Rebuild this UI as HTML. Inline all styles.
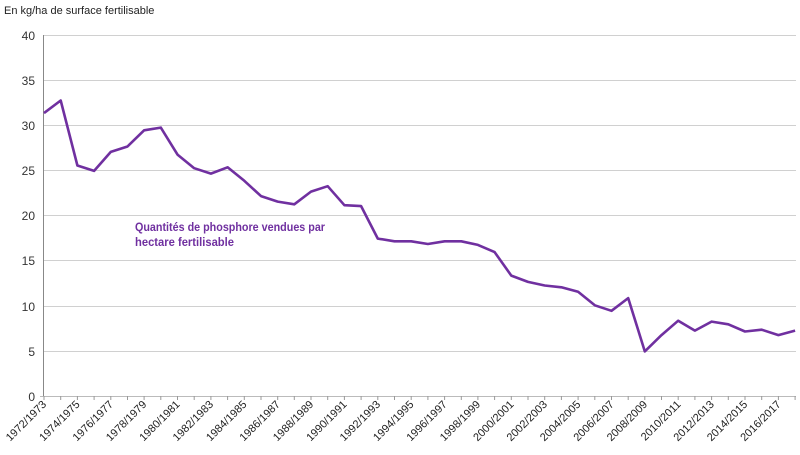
<!DOCTYPE html><html><head><meta charset="utf-8"><style>body{margin:0;background:#fff}svg{display:block}</style></head><body>
<svg width="800" height="455" xmlns="http://www.w3.org/2000/svg" font-family="Liberation Sans, sans-serif">
<text x="4" y="14" font-size="11" fill="#222">En kg/ha de surface fertilisable</text>
<g stroke="#d0d0d0" stroke-width="1">
<line x1="44" x2="796" y1="35.5" y2="35.5"/><line x1="44" x2="796" y1="80.5" y2="80.5"/><line x1="44" x2="796" y1="125.5" y2="125.5"/><line x1="44" x2="796" y1="170.5" y2="170.5"/><line x1="44" x2="796" y1="215.5" y2="215.5"/><line x1="44" x2="796" y1="260.5" y2="260.5"/><line x1="44" x2="796" y1="306.5" y2="306.5"/><line x1="44" x2="796" y1="351.5" y2="351.5"/>
</g>
<line x1="43.5" x2="43.5" y1="35" y2="397" stroke="#888"/>
<line x1="40" x2="796" y1="396.5" y2="396.5" stroke="#bbb"/>
<path stroke="#999" fill="none" d="M44 396v4M60.7 396v4M77.4 396v4M94.1 396v4M110.8 396v4M127.5 396v4M144.1 396v4M160.8 396v4M177.5 396v4M194.2 396v4M210.9 396v4M227.6 396v4M244.3 396v4M261 396v4M277.7 396v4M294.3 396v4M311 396v4M327.7 396v4M344.4 396v4M361.1 396v4M377.8 396v4M394.5 396v4M411.2 396v4M427.9 396v4M444.6 396v4M461.3 396v4M477.9 396v4M494.6 396v4M511.3 396v4M528 396v4M544.7 396v4M561.4 396v4M578.1 396v4M594.8 396v4M611.5 396v4M628.2 396v4M644.8 396v4M661.5 396v4M678.2 396v4M694.9 396v4M711.6 396v4M728.3 396v4M745 396v4M761.7 396v4M778.4 396v4M795.1 396v4"/>
<g font-size="12" fill="#333" text-anchor="end">
<text x="35" y="40">40</text><text x="35" y="85">35</text><text x="35" y="130">30</text><text x="35" y="175">25</text><text x="35" y="220">20</text><text x="35" y="265">15</text><text x="35" y="311">10</text><text x="35" y="356">5</text><text x="35" y="401">0</text>
</g>
<polyline fill="none" stroke="#7030A0" stroke-width="2.6" stroke-linejoin="round" points="44,113.1 60.7,100.5 77.4,165.5 94.1,170.9 110.8,151.9 127.5,146.5 144.1,130.3 160.8,127.6 177.5,154.6 194.2,168.2 210.9,173.6 227.6,167.3 244.3,180.8 261,196.1 277.7,201.6 294.3,204.3 311,191.6 327.7,186.2 344.4,205.2 361.1,206.1 377.8,238.6 394.5,241.3 411.2,241.3 427.9,244 444.6,241.3 461.3,241.3 477.9,244.9 494.6,252.1 511.3,275.6 528,281.9 544.7,285.5 561.4,287.3 578.1,291.8 594.8,305.3 611.5,310.8 628.2,298.1 644.8,351.4 661.5,335.1 678.2,320.7 694.9,330.6 711.6,321.6 728.3,324.3 745,331.5 761.7,329.7 778.4,335.1 795.1,330.6"/>
<text x="135" y="231" font-size="12" font-weight="bold" fill="#7030A0" textLength="190" lengthAdjust="spacingAndGlyphs">Quantités de phosphore vendues par</text>
<text x="135" y="246" font-size="12" font-weight="bold" fill="#7030A0" textLength="99" lengthAdjust="spacingAndGlyphs">hectare fertilisable</text>
<g font-size="11" fill="#222" text-anchor="end">
<text transform="translate(47,405) rotate(-45)">1972/1973</text>
<text transform="translate(80.4,405) rotate(-45)">1974/1975</text>
<text transform="translate(113.8,405) rotate(-45)">1976/1977</text>
<text transform="translate(147.2,405) rotate(-45)">1978/1979</text>
<text transform="translate(180.5,405) rotate(-45)">1980/1981</text>
<text transform="translate(213.9,405) rotate(-45)">1982/1983</text>
<text transform="translate(247.3,405) rotate(-45)">1984/1985</text>
<text transform="translate(280.7,405) rotate(-45)">1986/1987</text>
<text transform="translate(314.1,405) rotate(-45)">1988/1989</text>
<text transform="translate(347.5,405) rotate(-45)">1990/1991</text>
<text transform="translate(380.9,405) rotate(-45)">1992/1993</text>
<text transform="translate(414.3,405) rotate(-45)">1994/1995</text>
<text transform="translate(447.6,405) rotate(-45)">1996/1997</text>
<text transform="translate(481,405) rotate(-45)">1998/1999</text>
<text transform="translate(514.4,405) rotate(-45)">2000/2001</text>
<text transform="translate(547.8,405) rotate(-45)">2002/2003</text>
<text transform="translate(581.2,405) rotate(-45)">2004/2005</text>
<text transform="translate(614.6,405) rotate(-45)">2006/2007</text>
<text transform="translate(648,405) rotate(-45)">2008/2009</text>
<text transform="translate(681.4,405) rotate(-45)">2010/2011</text>
<text transform="translate(714.7,405) rotate(-45)">2012/2013</text>
<text transform="translate(748.1,405) rotate(-45)">2014/2015</text>
<text transform="translate(781.5,405) rotate(-45)">2016/2017</text>
</g>
</svg>
</body></html>
